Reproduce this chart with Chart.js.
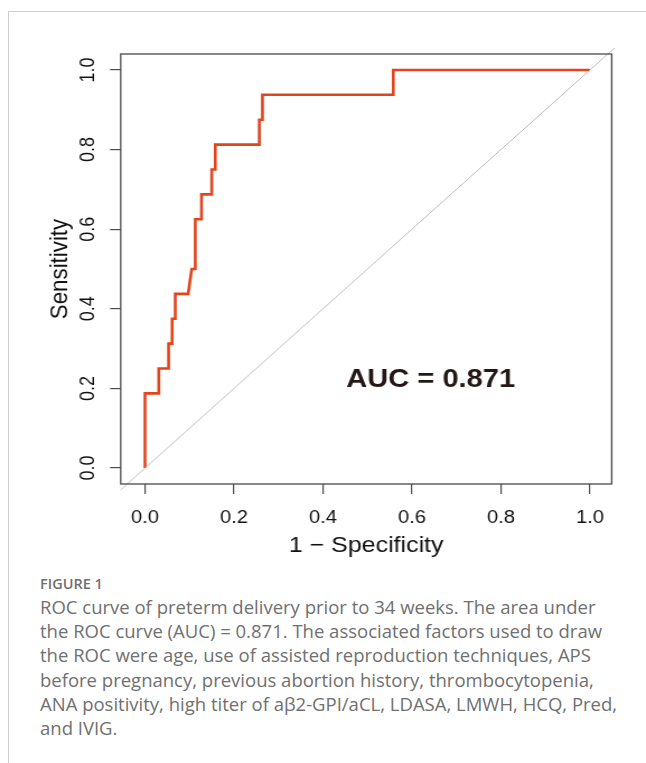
<!DOCTYPE html>
<html>
<head>
<meta charset="utf-8">
<script src="https://cdn.jsdelivr.net/npm/chart.js@4"></script>
<style>
  html, body { margin: 0; padding: 0; background: #fff; }
  body { width: 646px; height: 763px; position: relative; overflow: hidden; }
  .frame { position: absolute; left: 8px; top: 11px; right: -2px; bottom: -2px; border-top: 1px solid #cfcfcf; border-left: 1px solid #cfcfcf; }
  /* the original figure is stretched sideways, so the canvas is too */
  .plot { position: absolute; left: 0; top: 0; width: 577px; height: 560px; transform: scaleX(1.1195); transform-origin: 0 0; }
  .caption { position: absolute; left: 40px; top: 573px; font-family: "Open Sans", sans-serif; color: #707070; white-space: nowrap; }
  .caption .fig { font-size: 14.5px; font-weight: 600; color: #707070; line-height: 22px; }
  .caption .txt { font-size: 18.5px; line-height: 24.2px; }
</style>
</head>
<body>
<div class="frame"></div>
<div class="plot"><canvas id="roc"></canvas></div>
<div class="caption">
  <div class="fig">FIGURE 1</div>
  <div class="txt">ROC curve of preterm delivery prior to 34 weeks. The area under<br>the ROC curve (AUC) = 0.871. The associated factors used to draw<br>the ROC were age, use of assisted reproduction techniques, APS<br>before pregnancy, previous abortion history, thrombocytopenia,<br>ANA positivity, high titer of aβ2-GPI/aCL, LDASA, LMWH, HCQ, Pred,<br>and IVIG.</div>
</div>
<script>
// ROC curve vertices (1 - specificity, sensitivity)
const fpr = [0, 0, 0.031, 0.031, 0.053, 0.053, 0.061, 0.061, 0.068, 0.068, 0.097, 0.105, 0.113, 0.113, 0.127, 0.127, 0.150, 0.150, 0.158, 0.158, 0.257, 0.257, 0.264, 0.264, 0.558, 0.558, 1.0];
const tpr = [0, 0.1875, 0.1875, 0.25, 0.25, 0.3125, 0.3125, 0.375, 0.375, 0.4375, 0.4375, 0.5, 0.5, 0.625, 0.625, 0.6875, 0.6875, 0.75, 0.75, 0.8125, 0.8125, 0.875, 0.875, 0.9375, 0.9375, 1.0, 1.0];
// chance line y = x
const diagX = [-0.055, 1.055];
const diagY = [-0.055, 1.055];
const tickValues = [0, 0.2, 0.4, 0.6, 0.8, 1.0];
const tickLabels = ['0.0', '0.2', '0.4', '0.6', '0.8', '1.0'];
const aucLabel = 'AUC = 0.871';
const aucPos = [0.642, 0.222];

const FONT = '"Liberation Sans", Arial, sans-serif';

const rocExtras = {
    id: 'rocExtras',
    afterDraw(chart) {
        const {ctx, chartArea: a, scales: {x, y}} = chart;
        ctx.save();
        // box round the plot
        ctx.strokeStyle = '#4a4a4a';
        ctx.lineWidth = 1.3;
        ctx.strokeRect(a.left, a.top, a.right - a.left, a.bottom - a.top);
        // y tick labels, turned like R does
        ctx.fillStyle = '#111';
        ctx.font = '18px ' + FONT;
        ctx.textAlign = 'center';
        ctx.textBaseline = 'middle';
        tickValues.forEach((v, i) => {
            ctx.save();
            ctx.translate(79.3, y.getPixelForValue(v));
            ctx.rotate(-Math.PI / 2);
            ctx.fillText(tickLabels[i], 0, 0);
            ctx.restore();
        });
        ctx.font = 'bold 26px ' + FONT;
        ctx.fillStyle = '#231815';
        ctx.fillText(aucLabel, x.getPixelForValue(aucPos[0]), y.getPixelForValue(aucPos[1]));
        ctx.restore();
    }
};

const fixTicks = s => { s.ticks = tickValues.map(v => ({value: v})); };

new Chart(document.getElementById('roc'), {
    type: 'line',
    data: {
        datasets: [
            { data: diagX.map((v, i) => ({x: v, y: diagY[i]})), borderColor: '#bdbdbd', borderWidth: 1, pointRadius: 0, clip: false },
            { data: fpr.map((v, i) => ({x: v, y: tpr[i]})), borderColor: '#e2441c', borderWidth: 2.6, pointRadius: 0, borderJoinStyle: 'miter', borderCapStyle: 'butt' }
        ]
    },
    options: {
        responsive: true, maintainAspectRatio: false, animation: false,
        layout: { padding: { left: 0, top: 54, right: 30.6, bottom: 0 } },
        plugins: { legend: { display: false }, tooltip: { enabled: false } },
        elements: { line: { tension: 0 } },
        scales: {
            x: {
                type: 'linear', min: -0.0546, max: 1.0488,
                afterBuildTicks: fixTicks,
                afterFit: s => { s.height = 76; },
                grid: { drawOnChartArea: false, drawTicks: true, tickLength: 10, color: '#4a4a4a', lineWidth: 1.2 },
                border: { display: false },
                ticks: { padding: 13, color: '#111', font: { family: FONT, size: 18 }, maxRotation: 0, autoSkip: false,
                         callback: v => tickLabels[tickValues.indexOf(v)] },
                title: { display: true, text: '1 − Specificity', color: '#111', font: { family: FONT, size: 22.3 }, padding: { top: 0, bottom: 1 } }
            },
            y: {
                type: 'linear', min: -0.04, max: 1.04,
                afterBuildTicks: fixTicks,
                afterFit: s => { s.width = 107.8; },
                grid: { drawOnChartArea: false, drawTicks: true, tickLength: 9.5, color: '#4a4a4a', lineWidth: 1.2 },
                border: { display: false },
                ticks: { display: false },
                title: { display: true, text: 'Sensitivity', color: '#111', font: { family: FONT, size: 22.3 }, padding: { top: 40.8, bottom: 0 } }
            }
        }
    },
    plugins: [rocExtras]
});
</script>
</body>
</html>
